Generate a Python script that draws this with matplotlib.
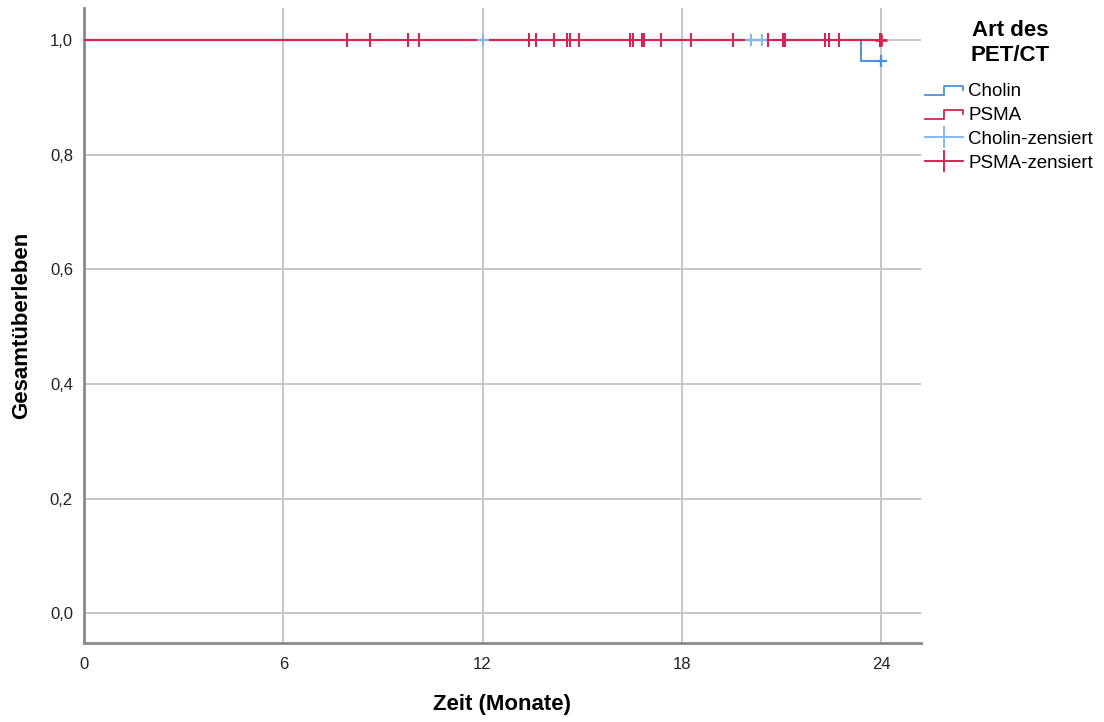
import matplotlib
matplotlib.use("Agg")
import matplotlib.pyplot as plt
from matplotlib.lines import Line2D
from matplotlib.legend_handler import HandlerBase

plt.rcParams['font.family'] = ['Liberation Sans', 'DejaVu Sans']

# Kaplan-Meier Stufen
cholin_t = [0.0, 23.4, 24.0]
cholin_s = [1.0, 0.964, 0.964]
psma_t = [0.0, 24.0]
psma_s = [1.0, 1.0]

# zensierte Faelle
cholin_cens_t = [12.0, 20.08, 20.41, 24.0]
cholin_cens_s = [1.0, 1.0, 1.0, 0.964]
psma_cens_t = [7.92, 8.61, 9.76, 10.09, 13.40, 13.61, 14.15, 14.54, 14.63, 14.90,
               16.44, 16.53, 16.80, 16.86, 17.37, 18.28, 19.54, 20.60, 21.05, 21.10,
               22.31, 22.43, 22.73, 23.98, 24.0]
psma_cens_s = [1.0] * len(psma_cens_t)

x_ticks = [0, 6, 12, 18, 24]
y_ticks = [0.0, 0.2, 0.4, 0.6, 0.8, 1.0]

blue = '#4a8fe0'
blue_light = '#86b6f0'
red = '#d42650'


class StepHandler(HandlerBase):
    def create_artists(self, legend, orig_handle, xdescent, ydescent,
                       width, height, fontsize, trans):
        x0 = -xdescent
        y0 = -ydescent
        xs = [x0, x0 + 0.5 * width, x0 + 0.5 * width, x0 + width, x0 + width]
        ys = [y0 + 0.1 * height, y0 + 0.1 * height, y0 + 0.8 * height,
              y0 + 0.8 * height, y0 + 0.45 * height]
        ln = Line2D(xs, ys, color=orig_handle.get_color(), lw=1.3)
        ln.set_transform(trans)
        return [ln]


fig = plt.figure(figsize=(11.04, 7.22), dpi=100)
ax = fig.add_axes([0.0761, 0.1094, 0.7581, 0.8795])

ax.step(cholin_t, cholin_s, where='post', color=blue, lw=1.4, zorder=3)
ax.step(psma_t, psma_s, where='post', color=red, lw=1.6, zorder=4)
ax.plot(cholin_cens_t, cholin_cens_s, ls='none', marker='+', markersize=9,
        markeredgewidth=1.5, color=blue_light, zorder=5)
ax.plot([24.0], [0.964], ls='none', marker='+', markersize=9,
        markeredgewidth=1.6, color=blue, zorder=5)
ax.plot(psma_cens_t, psma_cens_s, ls='none', marker='|', markersize=9.5,
        markeredgewidth=1.5, color=red, zorder=6)
ax.plot([24.0], [1.0], ls='none', marker='+', markersize=9,
        markeredgewidth=2, color=red, zorder=6)

ax.set_xlim(0, 25.2)
ax.set_ylim(-0.052, 1.056)
ax.set_xticks(x_ticks)
ax.set_yticks(y_ticks)
ax.set_yticklabels([f'{v:.1f}'.replace('.', ',') for v in y_ticks])
ax.tick_params(length=0, labelsize=12, colors='#222222')
ax.tick_params(axis='x', pad=10)
ax.tick_params(axis='y', pad=8)

ax.grid(True, color='#c6c6c6', lw=1.4)
ax.set_axisbelow(True)
for side in ['top', 'right']:
    ax.spines[side].set_visible(False)
for side in ['left', 'bottom']:
    ax.spines[side].set_color('#8a8a8a')
    ax.spines[side].set_linewidth(2)

ax.set_xlabel('Zeit (Monate)', fontsize=16, fontweight='bold', va='center')
ax.set_ylabel('Gesamtüberleben', fontsize=16, fontweight='bold', va='center')
ax.xaxis.set_label_coords(0.5, -0.0976)
ax.yaxis.set_label_coords(-0.074, 0.5)

fig.text(1010 / 1104, 1 - 43 / 722, 'Art des\nPET/CT', ha='center', va='center',
         fontsize=16, fontweight='bold', linespacing=1.2)

handles = [Line2D([], [], color=blue), Line2D([], [], color=red),
           Line2D([], [], color=blue_light, marker='|', markersize=16, markeredgewidth=1.4, lw=1.4),
           Line2D([], [], color=red, marker='|', markersize=16, markeredgewidth=1.4, lw=1.4)]
labels = ['Cholin', 'PSMA', 'Cholin-zensiert', 'PSMA-zensiert']
leg = fig.legend(handles, labels, loc='upper left', bbox_to_anchor=(925 / 1104, 1 - 83 / 722),
                 frameon=False, fontsize=13.5, borderpad=0, borderaxespad=0,
                 handlelength=2.0, handletextpad=0.3, labelspacing=0.36,
                 handler_map={handles[0]: StepHandler(), handles[1]: StepHandler()})

fig.savefig('out.png', dpi=100)
